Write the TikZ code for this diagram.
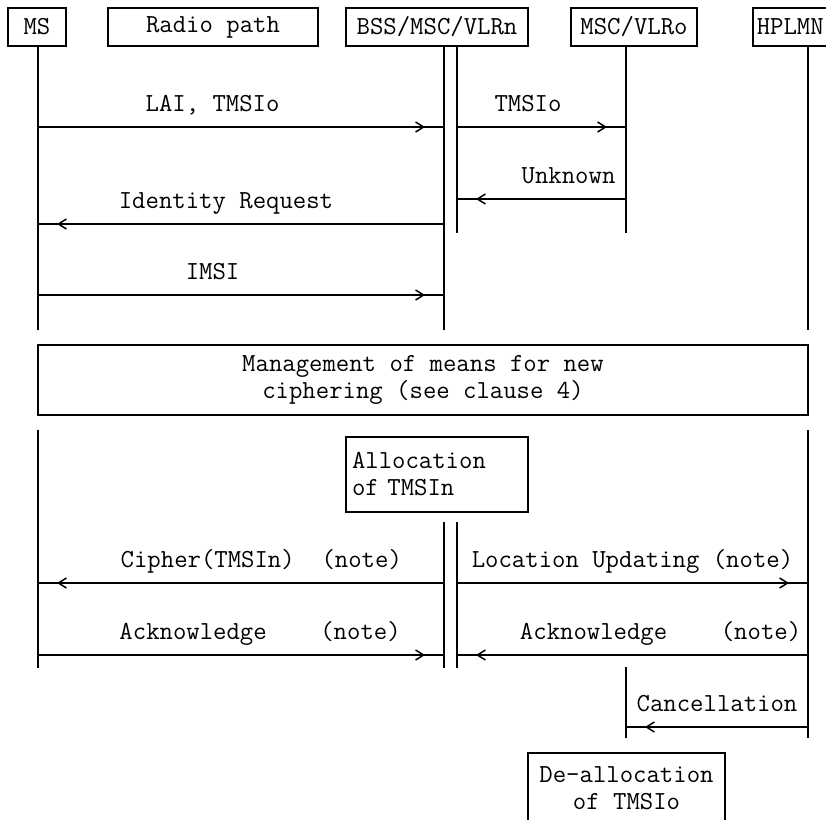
\documentclass[tikz,border=0pt]{standalone}
\usetikzlibrary{arrows.meta,decorations.markings}

\begin{document}
\begin{tikzpicture}[x=0.5pt, y=-0.5pt, line width=0.75pt,
        every node/.style={font=\ttfamily\fontsize{13}{13.5}\selectfont},
        box/.style={draw, rectangle, minimum height=19pt, inner sep=3pt},
        msg/.style={postaction={decorate}, decoration={markings,
            mark=at position -9.5pt with {\arrow{Straight Barb[length=4pt,width=5pt]}}}},
        lbl/.style={anchor=base, yshift=8pt, inner sep=0pt}]
        \path[use as bounding box, clip] (0,0) rectangle (826,820);

        \node[box, minimum width=29pt] (MS) at (37,27) {MS};
        \node[box, minimum width=105pt] (Radio) at (213,27) {Radio path};
        \node[box, minimum width=91pt] (BSS) at (437,27) {BSS/MSC/VLRn};
        \node[box, minimum width=63pt] (VLRo) at (634,27) {MSC/VLRo};
        \node[box, inner xsep=2pt, text width=60pt, align=left, anchor=west] (HPLMN) at (752,27) {HPLMN};

        \coordinate (ms) at (38,46);
        \coordinate (bssl) at (444,46);
        \coordinate (bssr) at (457,46);
        \coordinate (vlro) at (626,46);
        \coordinate (hp) at (808,46);

        \coordinate (e1) at (0,233);
        \coordinate (e2) at (0,330);
        \coordinate (s2) at (0,430);
        \coordinate (s3) at (0,522);
        \coordinate (s4) at (0,667);
        \coordinate (e3) at (0,668);
        \coordinate (e4) at (0,738);

        \draw (ms) -- (ms |- e2);
        \draw (bssl) -- (bssl |- e2);
        \draw (bssr) -- (bssr |- e1);
        \draw (vlro) -- (vlro |- e1);
        \draw (hp) -- (hp |- e2);

        \draw (ms |- s2) -- (ms |- e3);
        \draw (bssl |- s3) -- (bssl |- e3);
        \draw (bssr |- s3) -- (bssr |- e3);
        \draw (vlro |- s4) -- (vlro |- e4);
        \draw (hp |- s2) -- (hp |- e4);

        \coordinate (l1) at (0,127);
        \coordinate (l2) at (0,199);
        \coordinate (l3) at (0,224);
        \coordinate (l4) at (0,295);
        \coordinate (l5) at (0,583);
        \coordinate (l6) at (0,655);
        \coordinate (l7) at (0,727);

        \draw[msg] (ms |- l1) -- node[lbl, pos=0.43] (tlai) {LAI, TMSIo} (bssl |- l1);
        \draw[msg] (bssr |- l1) -- node[lbl, pos=0.42] (ttmsi) {TMSIo} (vlro |- l1);
        \draw[msg] (vlro |- l2) -- node[lbl, pos=0.34] (tunk) {Unknown} (bssr |- l2);
        \draw[msg] (bssl |- l3) -- node[lbl, pos=0.537] (tidr) {Identity Request} (ms |- l3);
        \draw[msg] (ms |- l4) -- node[lbl, pos=0.43] (timsi) {IMSI} (bssl |- l4);

        \node[box, minimum width=385pt, minimum height=35pt, align=center] (mgmt) at (423,380)
            {Management of means for new\\ciphering (see clause 4)};
        \node[box, minimum width=91pt, minimum height=37.5pt, text width=85pt, align=left] (alloc) at (437,474.5)
            {Allocation\\of TMSIn};

        \draw[msg] (bssl |- l5) -- node[lbl, pos=0.45] (tciph) {Cipher(TMSIn)\ \ (note)} (ms |- l5);
        \draw[msg] (bssr |- l5) -- node[lbl, pos=0.5] (tloc) {Location Updating (note)} (hp |- l5);
        \draw[msg] (ms |- l6) -- node[lbl, pos=0.547] (tack1) {Acknowledge\ \ \ \ (note)} (bssl |- l6);
        \draw[msg] (hp |- l6) -- node[lbl, pos=0.42] (tack2) {Acknowledge\ \ \ \ (note)} (bssr |- l6);
        \draw[msg] (hp |- l7) -- node[lbl, pos=0.5] (tcanc) {Cancellation} (vlro |- l7);

        \node[box, minimum width=98.5pt, minimum height=35pt, align=center, anchor=north] (dealloc) at (626.5,752)
            {De-allocation\\of TMSIo};
    \end{tikzpicture}
\end{document}
